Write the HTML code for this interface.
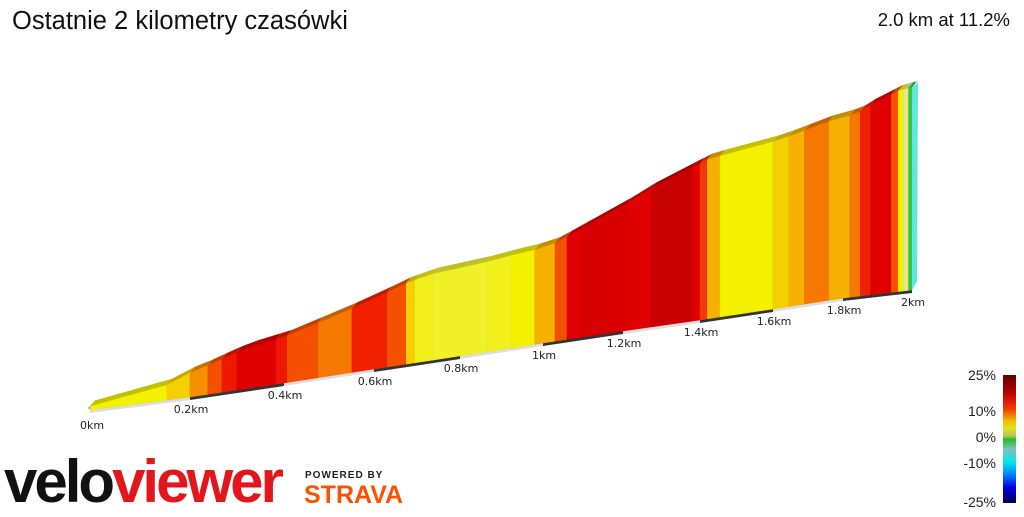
<!DOCTYPE html>
<html><head><meta charset="utf-8"><style>
body{margin:0;background:#fff;width:1024px;height:512px;overflow:hidden;font-family:"Liberation Sans",sans-serif}
</style></head><body>
<svg id="c" width="1024" height="512" xmlns="http://www.w3.org/2000/svg">
<text x="12" y="29" font-size="25.5" fill="#111">Ostatnie 2 kilometry czasówki</text>
<text x="1010" y="26" font-size="18.5" fill="#111" text-anchor="end">2.0 km at 11.2%</text>
<defs><linearGradient id="lg" x1="0" y1="0" x2="0" y2="1">
<stop offset="0" stop-color="#600000"/><stop offset="0.15" stop-color="#c00000"/><stop offset="0.27" stop-color="#f04000"/><stop offset="0.36" stop-color="#f0c000"/><stop offset="0.42" stop-color="#e0e020"/><stop offset="0.48" stop-color="#b0c060"/><stop offset="0.5" stop-color="#20c020"/><stop offset="0.58" stop-color="#80c0c0"/><stop offset="0.68" stop-color="#00e8e8"/><stop offset="0.78" stop-color="#0080ff"/><stop offset="0.88" stop-color="#0000e0"/><stop offset="1" stop-color="#000050"/>
</linearGradient></defs>
<rect x="1003" y="375" width="13" height="128" fill="url(#lg)"/>
<g font-size="14" fill="#222" text-anchor="end">
<text x="996" y="380">25%</text>
<text x="996" y="416">10%</text>
<text x="996" y="442">0%</text>
<text x="996" y="468">-10%</text>
<text x="996" y="507">-25%</text>
</g>
<text x="4" y="502" font-size="60" font-weight="bold" letter-spacing="-3" fill="#111">velo<tspan fill="#e3161c">viewer</tspan></text>
<text x="305" y="478" font-size="10" font-weight="bold" fill="#222" letter-spacing="1">POWERED BY</text>
<text x="304" y="503" font-size="25" font-weight="bold" fill="#fc5200" letter-spacing="0">STRAVA</text>
<g id="plot"></g>
</svg>
<script>
const dist=[0,0.154,0.2,0.238,0.268,0.3,0.334,0.383,0.407,0.476,0.551,0.631,0.675,0.695,0.737,0.865,0.925,0.98,1.03,1.06,1.098,1.21,1.274,1.38,1.40,1.42,1.455,1.60,1.645,1.69,1.76,1.82,1.85,1.88,1.94,1.96,1.975,1.99,2.0];
const elev=[4,17,27,32,37,42,46,50,52,61,71,83,90,92,96,100,103,105,109,114,121,141,154,171,174,177,179,186,189,193,199,202,205,211,220,223,224,225,225];
const grade=[5,7,9.5,12,14.5,16,16,14.5,12,10,14,12,7,4,3.5,4,5,8,12,16,17,16,19,16,13,8,5,7,8,10,8,10,14,16,12,5,2,0];
const tickKm=[0,0.2,0.4,0.6,0.8,1.0,1.2,1.4,1.6,1.8,2.0];
const tickLabels=["0km","0.2km","0.4km","0.6km","0.8km","1km","1.2km","1.4km","1.6km","1.8km","2km"];
</script>
<script>
(function(){
const bx=[90,190,284,374,460,543,623,700,773,843,912], by=[410,397,383,369,356,343,331,320,309,298,290];
function basePt(d){let i=Math.min(9,Math.floor(d/0.2));let t=(d-tickKm[i])/0.2;return [bx[i]+(bx[i+1]-bx[i])*t,by[i]+(by[i+1]-by[i])*t];}
const PX=0.9;
function topPt(k){const b=basePt(dist[k]);return [b[0],b[1]-elev[k]*PX];}
const stops=[[-25,[0,0,80]],[-10,[0,224,224]],[-3,[100,220,200]],[0,[48,200,64]],[2,[230,230,140]],[3.5,[240,240,40]],[5,[243,240,0]],[7,[245,208,0]],[8,[245,176,0]],[9.5,[245,144,0]],[10,[245,120,0]],[12,[244,80,0]],[14,[240,32,0]],[16,[224,0,0]],[19,[200,0,0]],[25,[96,0,0]]];
function col(g,f){f=f||1;let i=0;while(i<stops.length-2&&g>stops[i+1][0])i++;const a=stops[i],b=stops[i+1];let t=Math.max(0,Math.min(1,(g-a[0])/(b[0]-a[0])));const c=a[1].map((v,j)=>Math.round((v+(b[1][j]-v)*t)*f));return 'rgb('+c.join(',')+')';}
const NS="http://www.w3.org/2000/svg",plot=document.getElementById('plot');
function poly(pts,fill,name,stroke){const p=document.createElementNS(NS,'polygon');p.setAttribute('points',pts.map(q=>q.join(',')).join(' '));p.setAttribute('fill',fill);if(stroke){p.setAttribute('stroke',stroke);p.setAttribute('stroke-width','0.5');}


plot.appendChild(p);return p;}
const DX=5,DY=-6;
for(let i=0;i<10;i++){const a=basePt(tickKm[i]),b=basePt(tickKm[i+1]);poly([a,b,[b[0],b[1]+3],[a[0],a[1]+3]],i%2?'#333':'#ddd','base-strip-segment');}
{const b=basePt(0),t=topPt(0);poly([b,t,[t[0]+DX-2,t[1]+DY+2],[b[0]-2,b[1]-2]],'#999','start-face');}
for(let k=0;k<grade.length;k++){
 const b0=basePt(dist[k]),b1=basePt(dist[k+1]),t0=topPt(k),t1=topPt(k+1);
 poly([b0,t0,t1,b1],col(grade[k]),'segment-face',col(grade[k],0.95));
 poly([t0,[t0[0]+DX,t0[1]+DY],[t1[0]+DX,t1[1]+DY],t1],col(grade[k],0.8),'segment-top');
}
{const n=dist.length-1,b=basePt(dist[n]),t=topPt(n);poly([b,t,[t[0]+DX+1,t[1]+DY+1],[b[0]+DX,b[1]-8]],'#60e8e0','end-face');}
tickKm.forEach((d,i)=>{const b=basePt(d);const t=document.createElementNS(NS,'text');t.textContent=tickLabels[i];t.setAttribute('x',i==0?b[0]+2:b[0]+1);t.setAttribute('y',i==0?b[1]+19:b[1]+16);t.setAttribute('font-size','11');t.setAttribute('font-family','DejaVu Sans, sans-serif');t.setAttribute('text-anchor','middle');t.setAttribute('fill','#222');


plot.appendChild(t);});
})();
</script>
</body></html>
